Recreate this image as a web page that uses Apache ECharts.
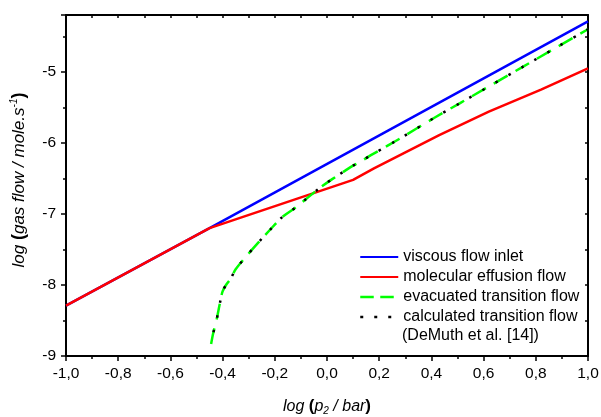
<!DOCTYPE html>
<html>
<head>
<meta charset="utf-8">
<script src="https://cdn.jsdelivr.net/npm/echarts@6/dist/echarts.min.js"></script>
<style>
html,body{margin:0;padding:0;background:#fff;}
#chart{width:601px;height:417px;}
</style>
</head>
<body>
<div id="chart"></div>
<script>
// ---- data ----
var seriesNames = ['viscous flow inlet', 'molecular effusion flow', 'evacuated transition flow', 'calculated transition flow'];
var noteText = '(DeMuth et al. [14])';

var viscousX = [-1.0, -0.45, 1.0];
var viscousY = [-8.29, -7.20, -4.29];

var effusionX = [-1.0, -0.45, 0.10, 0.18, 0.43, 0.62, 0.82, 1.0];
var effusionY = [-8.29, -7.20, -6.52, -6.36, -5.89, -5.56, -5.25, -4.95];

var evacX = [-0.444, -0.436, -0.423, -0.41, -0.40, -0.385, -0.37, -0.35, -0.31, -0.26, -0.22, -0.17, -0.12, -0.08, -0.03, 0.02, 0.07, 0.10, 0.13, 0.17, 0.27, 0.41, 0.51, 0.75, 1.0];
var evacY = [-8.83, -8.68, -8.49, -8.25, -8.09, -7.99, -7.92, -7.78, -7.60, -7.39, -7.23, -7.04, -6.91, -6.79, -6.64, -6.51, -6.39, -6.32, -6.26, -6.17, -5.96, -5.65, -5.44, -4.93, -4.40];

var calcX = [-0.444, -0.436, -0.423, -0.41, -0.40, -0.385, -0.37, -0.35, -0.31, -0.26, -0.22, -0.17, -0.12, -0.08, -0.03, 0.02, 0.07, 0.10, 0.13, 0.17, 0.27, 0.41, 0.51, 0.75, 1.0];
var calcY = [-8.83, -8.68, -8.49, -8.25, -8.09, -7.99, -7.92, -7.78, -7.60, -7.39, -7.23, -7.04, -6.91, -6.79, -6.64, -6.51, -6.39, -6.32, -6.26, -6.17, -5.96, -5.65, -5.44, -4.93, -4.40];

var xMin = -1.0, xMax = 1.0, xStep = 0.2;
var yMin = -9, yMax = -4.2, yStep = 1;

function pairs(xs, ys) { return xs.map(function (x, i) { return [x, ys[i]]; }); }

var FONT = 'Liberation Sans, Arial, sans-serif';
var chart = echarts.init(document.getElementById('chart'), null, {renderer: 'canvas'});

var axisLine = {show: true, onZero: false, lineStyle: {color: '#000', width: 2}};

chart.setOption({
  animation: false,
  backgroundColor: '#fff',
  grid: {left: 66, right: 13, top: 15, bottom: 61, containLabel: false, outerBoundsMode: 'none'},
  xAxis: [{
    type: 'value', min: xMin, max: xMax, interval: xStep, position: 'bottom',
    axisLine: axisLine,
    axisTick: {show: true, inside: false, length: 5, lineStyle: {color: '#000', width: 1.5}},
    minorTick: {show: true, splitNumber: 2, length: 3, lineStyle: {color: '#000', width: 1.5}},
    splitLine: {show: false},
    axisLabel: {color: '#000', fontFamily: FONT, fontSize: 15.5, margin: 10,
      formatter: function (v) { return v.toFixed(1).replace('.', ','); }},
    name: '{i|log }{b|(}{i|p}{sub|2}{i| / bar}{b|)}',
    nameLocation: 'middle', nameGap: 41,
    nameTextStyle: {
      fontFamily: FONT,
      rich: {
        i: {fontStyle: 'italic', fontSize: 16, color: '#000', fontFamily: FONT, lineHeight: 19},
        b: {fontWeight: 'bold', fontSize: 17, color: '#000', fontFamily: FONT, lineHeight: 19},
        sub: {fontStyle: 'italic', fontSize: 10, color: '#000', fontFamily: FONT, verticalAlign: 'bottom', lineHeight: 19, padding: [6, 0, 0, 0]}
      }
    }
  }, {
    type: 'value', min: xMin, max: xMax, interval: 0.1, position: 'top',
    axisLine: axisLine,
    axisTick: {show: true, inside: true, length: 3, lineStyle: {color: '#000', width: 1.5}},
    axisLabel: {show: false}, splitLine: {show: false}
  }],
  yAxis: [{
    type: 'value', min: yMin, max: yMax, interval: yStep, position: 'left',
    axisLine: axisLine,
    axisTick: {show: true, inside: false, length: 5, lineStyle: {color: '#000', width: 1.5}},
    minorTick: {show: true, splitNumber: 2, length: 3, lineStyle: {color: '#000', width: 1.5}},
    splitLine: {show: false},
    axisLabel: {color: '#000', fontFamily: FONT, fontSize: 15.5, margin: 10,
      formatter: function (v) { return Math.abs(v - Math.round(v)) < 1e-6 ? String(Math.round(v)) : ''; }},
    name: '{i|log }{b|(}{i|gas flow / mole.s}{sup|-1}{b|)}',
    nameLocation: 'middle', nameGap: 37,
    nameTextStyle: {
      fontFamily: FONT,
      padding: [0, 0, 0, 11],
      rich: {
        i: {fontStyle: 'italic', fontSize: 17, color: '#000', fontFamily: FONT, lineHeight: 20},
        b: {fontWeight: 'bold', fontSize: 18, color: '#000', fontFamily: FONT, lineHeight: 20},
        sup: {fontStyle: 'italic', fontSize: 10, color: '#000', fontFamily: FONT, verticalAlign: 'top', lineHeight: 20, padding: [0, 0, 8, 0]}
      }
    }
  }, {
    type: 'value', min: yMin, max: yMax, interval: 0.5, position: 'right',
    axisLine: axisLine,
    axisTick: {show: true, inside: true, length: 3, lineStyle: {color: '#000', width: 1.5}},
    axisLabel: {show: false}, splitLine: {show: false}
  }],
  legend: {
    orient: 'vertical', left: 359, top: 247,
    itemWidth: 38, itemHeight: 14, itemGap: 0,
    padding: 0,
    itemStyle: {opacity: 0},
    textStyle: {fontFamily: FONT, fontSize: 16, color: '#000', lineHeight: 20},
    data: [
      {name: seriesNames[0]},
      {name: seriesNames[1]},
      {name: seriesNames[2], lineStyle: {type: [13.5, 6.5], width: 2.5, dashOffset: 0}},
      {name: seriesNames[3], lineStyle: {type: [3, 11], width: 2.5, dashOffset: 0}}
    ]
  },
  graphic: [{
    type: 'text', left: 402, top: 328,
    style: {text: noteText, font: '16px ' + FONT, fill: '#000'}
  }],
  series: [{
    name: seriesNames[0], type: 'line', data: pairs(viscousX, viscousY),
    symbol: 'none', lineStyle: {color: '#0000ff', width: 2.5}, itemStyle: {color: '#0000ff'}
  }, {
    name: seriesNames[1], type: 'line', data: pairs(effusionX, effusionY),
    symbol: 'none', lineStyle: {color: '#ff0000', width: 2.5}, itemStyle: {color: '#ff0000'}
  }, {
    name: seriesNames[2], type: 'line', data: pairs(evacX, evacY),
    symbol: 'none', smooth: 0.3, lineStyle: {color: '#00ff00', width: 2.5, type: [16, 9]}, itemStyle: {color: '#00ff00'}
  }, {
    name: seriesNames[3], type: 'line', data: pairs(calcX, calcY),
    symbol: 'none', smooth: 0.3, lineStyle: {color: '#000000', width: 2.5, type: [2.5, 12.5], dashOffset: 3}, itemStyle: {color: '#000000'}
  }]
});
</script>
</body>
</html>
